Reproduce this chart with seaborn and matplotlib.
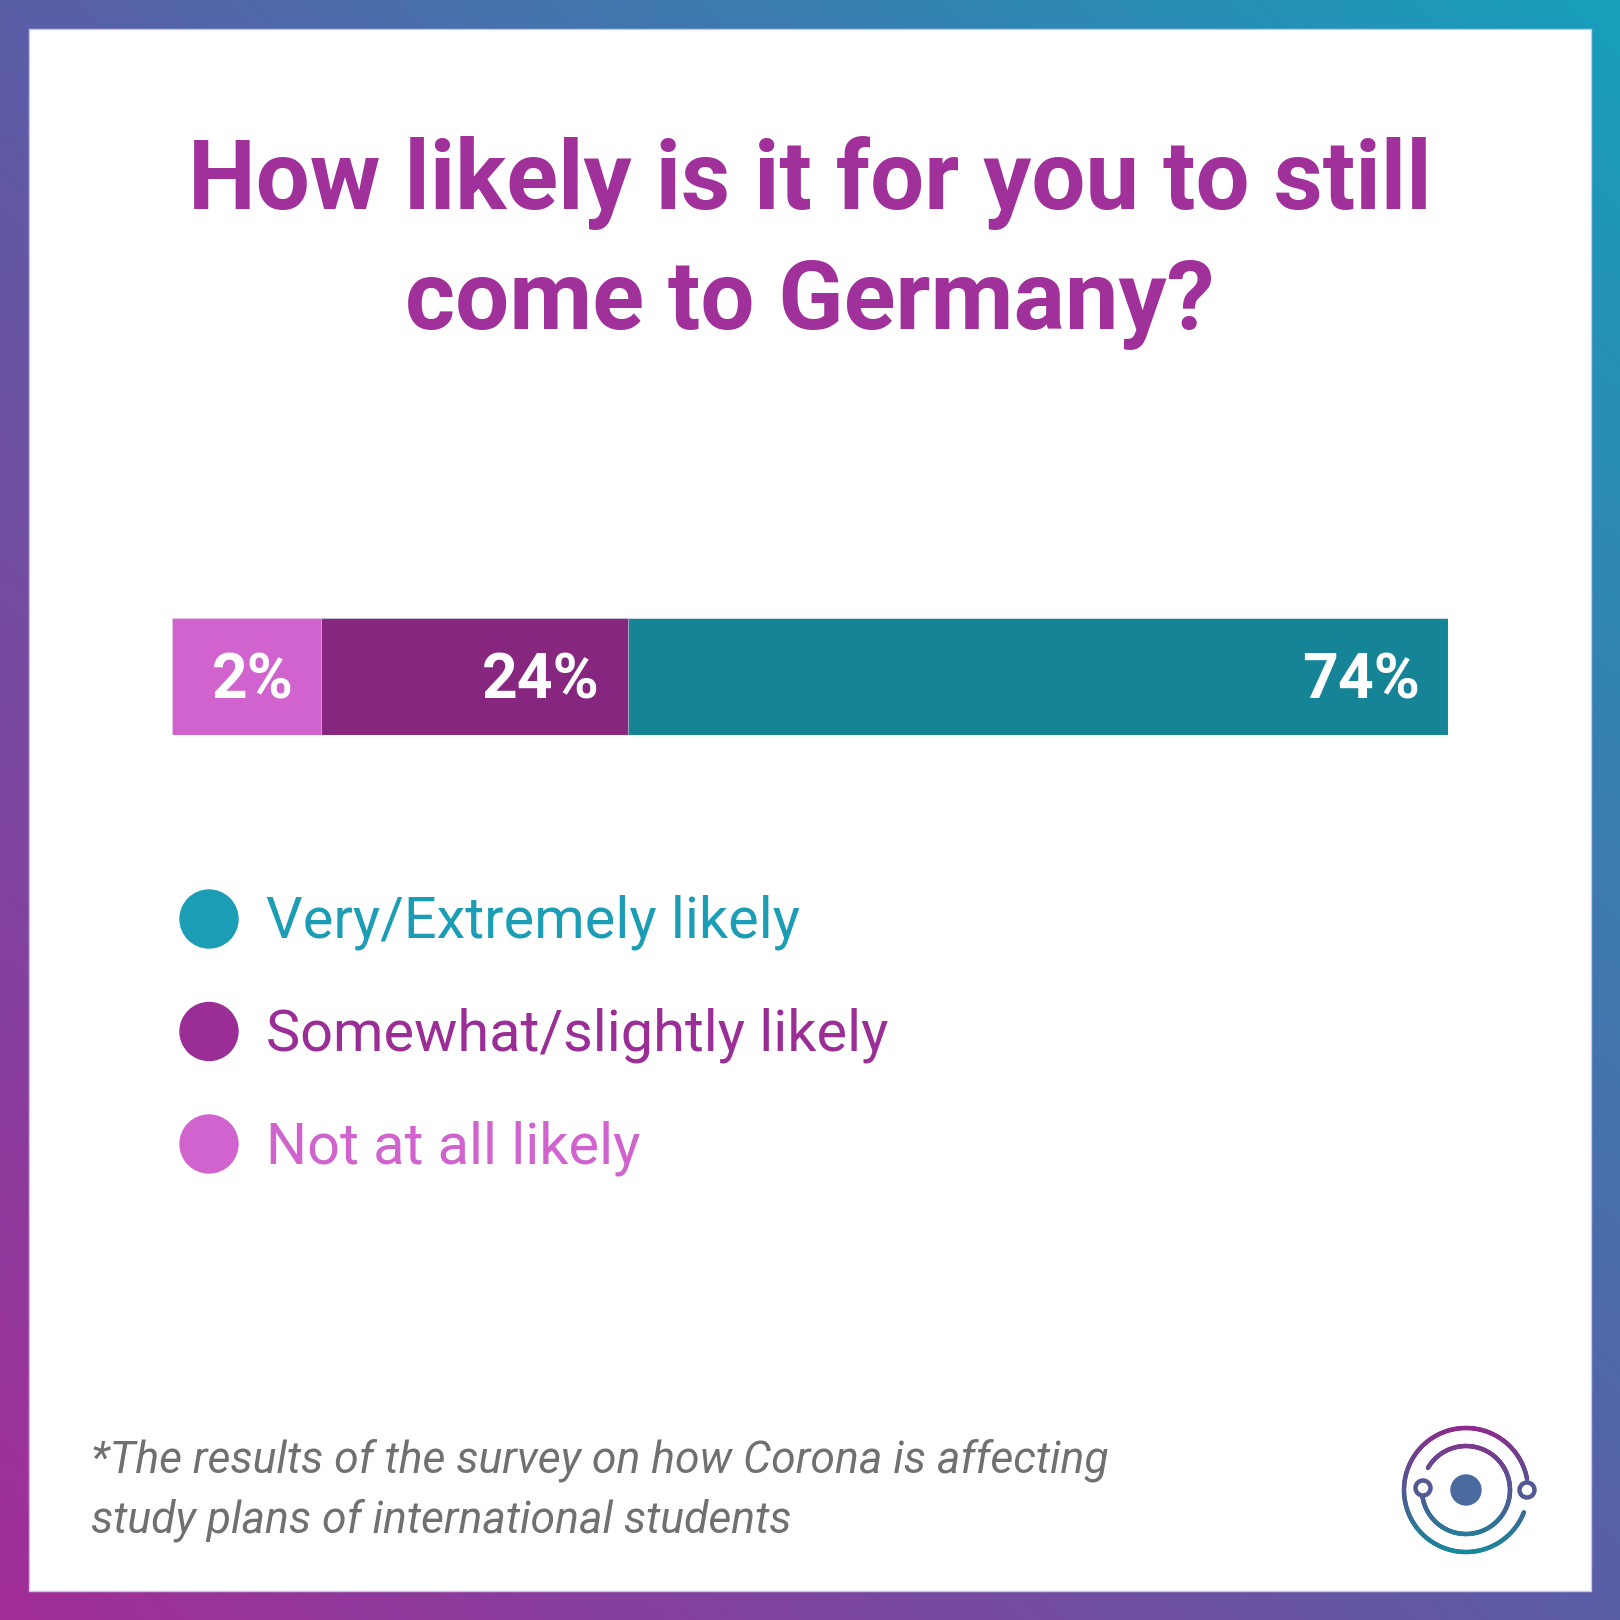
import matplotlib
matplotlib.use('Agg')
import matplotlib.pyplot as plt
import seaborn as sns
import numpy as np
import pandas as pd
from matplotlib.colors import LinearSegmentedColormap
from matplotlib.patches import Circle, Rectangle
from matplotlib.collections import LineCollection

# data
categories = ['Not at all likely', 'Somewhat/slightly likely', 'Very/Extremely likely']
shares = [2, 24, 74]
bar_colors = ['#D063CD', '#87267F', '#158496']
legend_labels = ['Very/Extremely likely', 'Somewhat/slightly likely', 'Not at all likely']
legend_colors = ['#1A9DB5', '#9B2D96', '#D063CD']
title_lines = ['How likely is it for you to still', 'come to Germany?']
footnote_lines = ['*The results of the survey on how Corona is affecting',
                  'study plans of international students']

W = 1620
DPI = 100

sns.set_theme(style='white')
plt.rcParams['font.family'] = ['Roboto', 'DejaVu Sans']

fig = plt.figure(figsize=(W / DPI, W / DPI), dpi=DPI)

# frame axes, pixel units, y down
bg = fig.add_axes([0, 0, 1, 1])
bg.set_xlim(0, W)
bg.set_ylim(W, 0)
bg.axis('off')

frame_cmap = LinearSegmentedColormap.from_list('frame', ['#A22D98', '#5A5EA6', '#179FBB'])
xx, yy = np.meshgrid(np.linspace(0, 1, 300), np.linspace(0, 1, 300))
bg.imshow((xx + (1 - yy)) / 2, cmap=frame_cmap, extent=(0, W, W, 0),
          origin='upper', aspect='auto', zorder=0)
bg.add_patch(Rectangle((29, 29), W - 58, W - 58, facecolor='white',
                       edgecolor='#C9C9EE', linewidth=1, zorder=1))

# title
for i, line in enumerate(title_lines):
    fig.text(0.5, 1 - (209 + i * 120) / W, line, ha='center', va='baseline',
             fontsize=69, fontweight='bold', color='#A0309A')

# stacked bar (small segments get a minimum visible width)
min_share = 11.7
disp = [max(v, min_share) for v in shares]
big = int(np.argmax(shares))
disp[big] -= sum(disp) - 100
df = pd.DataFrame({'segment': categories, 'share': shares,
                   'end': np.cumsum(disp), 'color': bar_colors})

ax = fig.add_axes([172 / W, 1 - 735 / W, 1276 / W, 117 / W])
for row in df[::-1].itertuples():
    sns.barplot(x=[row.end], y=['all'], orient='h', color=row.color,
                saturation=1, width=1, ax=ax,
                edgecolor=(1, 1, 1, 0.45), linewidth=0.8)
for row in df.itertuples():
    ax.annotate(f'{row.share}%', xy=(row.end, 0), xytext=(-20, -16),
                textcoords='offset points', ha='right', va='baseline',
                fontsize=45, fontweight='bold', color='white')
ax.set_xlim(0, 100)
ax.set_ylim(0.5, -0.5)
ax.axis('off')

# legend
for i, (lab, col) in enumerate(zip(legend_labels, legend_colors)):
    cy = 919 + i * 112.5
    bg.add_patch(Circle((209, cy), 29, color=col, zorder=3))
    bg.text(266, cy + 19, lab, ha='left', va='baseline', fontsize=41.5,
            color=col, zorder=3)

# footnote
for i, line in enumerate(footnote_lines):
    bg.text(91, 1473 + i * 60, line, ha='left', va='baseline', fontsize=32,
            style='italic', color='#707070', zorder=3)

# logo
logo_cmap = LinearSegmentedColormap.from_list('logo', ['#8E2A8C', '#15899A'])
cx, cy = 1466, 1490


def logo_color(y):
    return logo_cmap(np.clip((y - (cy - 64)) / 128, 0, 1))


def arc(r, t0, t1):
    th = np.radians(np.linspace(t0, t1, 240))
    x = cx + r * np.cos(th)
    y = cy - r * np.sin(th)
    pts = np.column_stack([x, y]).reshape(-1, 1, 2)
    segs = np.concatenate([pts[:-1], pts[1:]], axis=1)
    lc = LineCollection(segs, colors=logo_color(y[:-1]), linewidths=3.2,
                        capstyle='round', zorder=3)
    bg.add_collection(lc)


arc(62, 10, 339)
arc(44, -172, 150)
for (sx, sy) in [(cx + 61, cy), (cx - 43, cy - 2)]:
    bg.add_patch(Circle((sx, sy), 7.5, facecolor='white',
                        edgecolor=logo_color(sy), linewidth=3.2, zorder=4))
bg.add_patch(Circle((cx, cy), 15, color='#4A6AA0', zorder=4))

fig.savefig('out.png', dpi=DPI)
